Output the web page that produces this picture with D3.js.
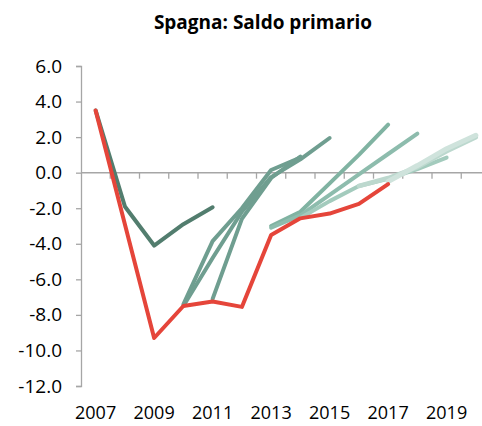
<!DOCTYPE html>
<html>
<head>
<meta charset="utf-8">
<script src="https://cdn.jsdelivr.net/npm/d3@7"></script>
<style>
  html, body { margin: 0; padding: 0; background: #fff; }
  svg { display: block; }
  text { font-family: "Open Sans", "Liberation Sans", sans-serif; fill: #000; }
</style>
</head>
<body>
<svg id="chart" width="482" height="426"></svg>
<script>
const title = "Spagna: Saldo primario";
const years = [2007, 2008, 2009, 2010, 2011, 2012, 2013, 2014, 2015, 2016, 2017, 2018, 2019, 2020];
const xLabels = ["2007", "2009", "2011", "2013", "2015", "2017", "2019"];
const yTicks = [-12, -10, -8, -6, -4, -2, 0, 2, 4, 6];

// Actual outcome (red)
const actual = [3.5, -2.9, -9.3, -7.5, -7.25, -7.55, -3.5, -2.57, -2.3, -1.76, -0.64, null, null, null];

// Forecast vintages (green shades, darkest = oldest)
const vintage1 = [3.5, -1.9, -4.1, -2.9, -1.95, null, null, null, null, null, null, null, null, null];
const vintage2 = [null, null, null, -7.4, -3.85, -2.0, 0.15, 0.85, null, null, null, null, null, null];
const vintage3 = [null, null, null, -7.5, -4.8, -2.2, -0.25, 0.75, 1.95, null, null, null, null, null];
const vintage4 = [null, null, null, null, -7.1, -2.6, -0.3, 0.9, null, null, null, null, null, null];
const vintage5 = [null, null, null, null, null, null, -3.0, -2.2, -0.6, 1.0, 2.7, null, null, null];
const vintage6 = [null, null, null, null, null, null, -3.1, -2.4, -1.25, -0.1, 1.05, 2.2, null, null];
const vintage7 = [null, null, null, null, null, null, null, -2.55, -1.6, -0.75, -0.35, 0.2, 0.85, null];
const vintage8 = [null, null, null, null, null, null, null, null, null, -0.75, -0.3, 0.3, 1.2, 2.0];
const vintage9 = [null, null, null, null, null, null, null, null, null, null, -0.5, 0.4, 1.35, 2.1];

const series = [
  { values: vintage1, color: "#527d6e", width: 4 },
  { values: vintage2, color: "#6f9e90", width: 4 },
  { values: vintage3, color: "#6f9e90", width: 4 },
  { values: vintage4, color: "#6f9e90", width: 4 },
  { values: vintage5, color: "#80b3a2", width: 4 },
  { values: vintage6, color: "#8dbcad", width: 4 },
  { values: vintage7, color: "#a3cbbd", width: 4 },
  { values: vintage8, color: "#bcd8ce", width: 4.5 },
  { values: vintage9, color: "#cfe3dc", width: 5 },
  { values: actual, color: "#e5453a", width: 4 }
];

const svg = d3.select("#chart");
const plotLeft = 81, plotTop = 66, plotBottom = 386, band = 29.25;

const x = d3.scaleBand().domain(years).range([plotLeft, plotLeft + band * years.length]).paddingInner(0).paddingOuter(0);
const y = d3.scaleLinear().domain([-12, 6]).range([plotBottom, plotTop]);

// Title
svg.append("text")
  .attr("x", 263).attr("y", 29)
  .attr("text-anchor", "middle")
  .style("font-size", "19px").style("font-weight", "bold")
  .text(title);

// Y axis
const yAxis = d3.axisLeft(y).tickValues(yTicks).tickSize(5).tickPadding(14)
  .tickFormat(d => d.toFixed(1));
const gy = svg.append("g").attr("transform", `translate(${plotLeft},0)`).call(yAxis);
gy.select(".domain").attr("stroke", "#a6a6a6").attr("stroke-width", 1.3);
gy.selectAll(".tick line").attr("stroke", "#a6a6a6").attr("stroke-width", 1.3);
gy.selectAll(".tick text").style("font-size", "19px").style("font-family", "'Open Sans', sans-serif").attr("fill", "#000");

// X axis at zero
const y0 = y(0);
const boundaries = d3.range(1, years.length).map(i => x(years[i]));
svg.append("line")
  .attr("x1", plotLeft).attr("x2", 482).attr("y1", y0).attr("y2", y0)
  .attr("stroke", "#a6a6a6").attr("stroke-width", 1.5);
svg.append("g").selectAll("line").data(boundaries).join("line")
  .attr("x1", d => d).attr("x2", d => d)
  .attr("y1", y0).attr("y2", y0 + 6)
  .attr("stroke", "#a6a6a6").attr("stroke-width", 1.3);

// X labels
svg.append("g").selectAll("text").data(xLabels).join("text")
  .attr("x", d => x(+d) + x.bandwidth() / 2)
  .attr("y", 419)
  .attr("text-anchor", "middle")
  .style("font-size", "18px")
  .text(d => d);

// Lines
const line = d3.line()
  .defined(d => d.v !== null)
  .x(d => x(d.year) + x.bandwidth() / 2)
  .y(d => y(d.v));

svg.append("g").selectAll("path").data(series).join("path")
  .attr("d", s => line(years.map((yr, i) => ({ year: yr, v: s.values[i] }))))
  .attr("fill", "none")
  .attr("stroke", s => s.color)
  .attr("stroke-width", s => s.width)
  .attr("stroke-linejoin", "round")
  .attr("stroke-linecap", "round");
</script>
</body>
</html>
